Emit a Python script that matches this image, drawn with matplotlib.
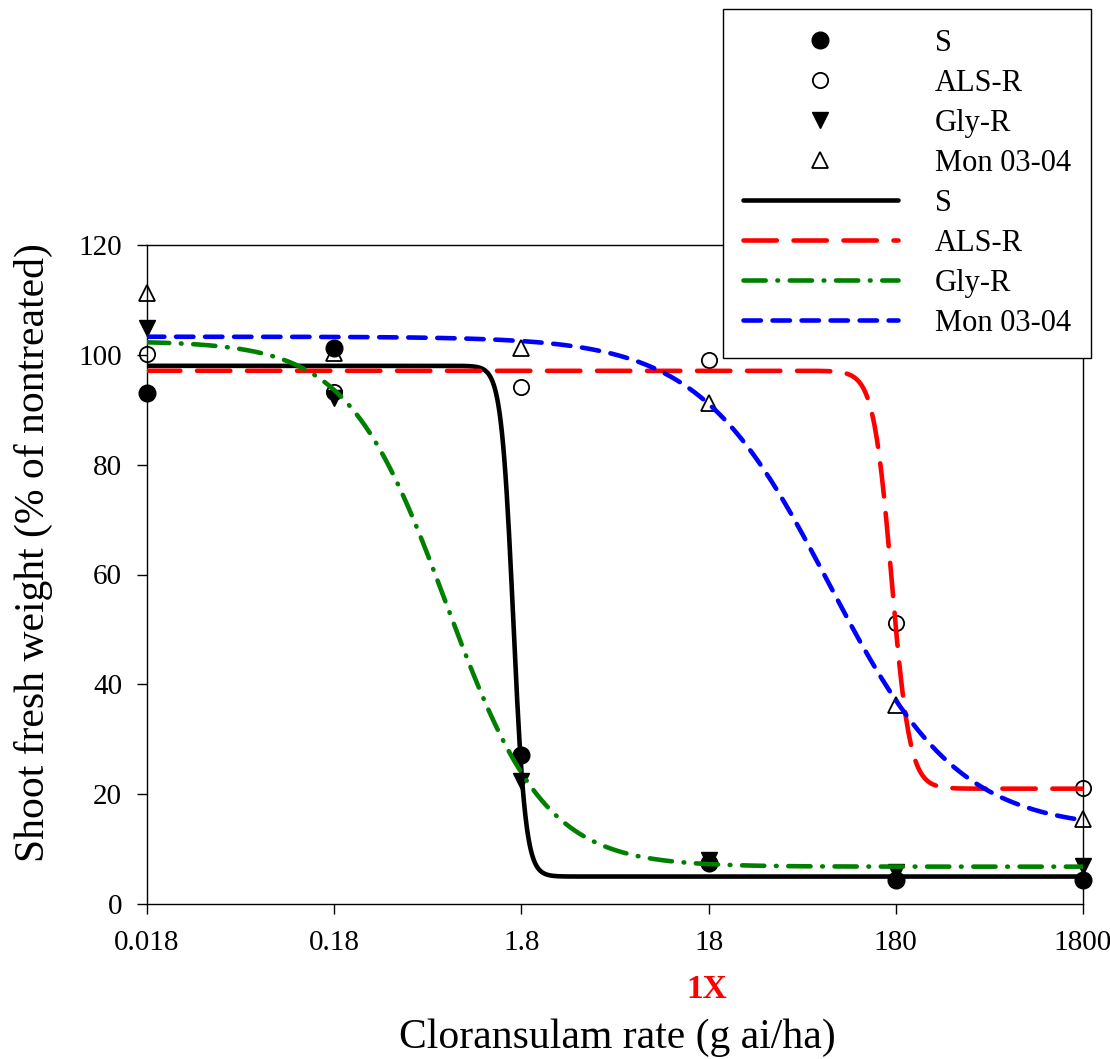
import numpy as np
import matplotlib
matplotlib.use('Agg')
import matplotlib.pyplot as plt
from matplotlib.lines import Line2D

plt.rcParams['font.family'] = ['Liberation Serif', 'DejaVu Serif']
plt.rcParams['lines.scale_dashes'] = False

# observed data (% of nontreated)
rates = [0.018, 0.18, 1.8, 18, 180, 1800]
s_obs = [93.1, 101.2, 27.2, 7.4, 4.4, 4.3]
als_obs = [100.1, 93.2, 94.1, 99.1, 51.2, 21.2]
gly_obs = [104.8, 92.1, 22.4, 8.0, 5.9, 7.0]
mon_obs = [111.3, 100.4, 101.3, 91.2, 36.3, 15.5]

# fitted log-logistic parameters: upper, lower, ED50, slope
labels = ['S', 'ALS-R', 'Gly-R', 'Mon 03-04']
upper = [98.0, 97.1, 102.5, 103.3]
lower = [5.0, 21.0, 6.8, 13.5]
ed50 = [1.63, 171.0, 0.715, 78.9]
slope = [13.5, 9.0, 1.65, 1.25]

tick_vals = [0.018, 0.18, 1.8, 18, 180, 1800]
tick_labels = ['0.018', '0.18', '1.8', '18', '180', '1800']

line_colors = ['black', 'red', 'green', 'blue']
line_dashes = ['-', (0, (24, 12)), (0, (16, 8.4, 0.5, 8.4)), (0, (12.5, 8.4))]

fig = plt.figure(figsize=(11.1, 10.59), dpi=100)
ax = fig.add_axes([147/1110, 1 - 904/1059, (1083 - 147)/1110, (904 - 245)/1059])

ms = 12
ax.plot(rates, s_obs, 'o', color='black', ms=ms, clip_on=False, zorder=3)
ax.plot(rates, als_obs, 'o', mfc='none', mec='black', ms=ms - 1, mew=1.3, clip_on=False, zorder=3)
ax.plot(rates, gly_obs, 'v', color='black', ms=ms, clip_on=False, zorder=3)
ax.plot(rates, mon_obs, '^', mfc='none', mec='black', ms=ms, mew=1.3, clip_on=False, zorder=3)

xx = np.logspace(np.log10(0.018), np.log10(1800), 800)
for i in range(4):
    yy = lower[i] + (upper[i] - lower[i]) / (1 + (xx / ed50[i]) ** slope[i])
    ax.plot(xx, yy, color=line_colors[i], linestyle=line_dashes[i], lw=3.3,
            dash_capstyle='round', solid_capstyle='round', zorder=4)

ax.set_xscale('log')
ax.set_xlim(0.018, 1800)
ax.set_ylim(0, 120)
ax.set_xticks(tick_vals)
ax.set_xticklabels(tick_labels)
ax.minorticks_off()
ax.set_yticks(range(0, 121, 20))
ax.tick_params(direction='out', length=7, width=1, labelsize=21)
ax.tick_params(axis='x', pad=12)
ax.tick_params(axis='y', pad=11)
for sp in ax.spines.values():
    sp.set_linewidth(1)

fig.text(707/1110, 1 - 998/1059, '1X', color='red', fontweight='bold',
         fontsize=24, ha='center', va='baseline')
fig.text(617/1110, 1 - 1048/1059, 'Cloransulam rate (g ai/ha)', fontsize=30,
         ha='center', va='baseline')
fig.text(33/1110, 1 - 553/1059, 'Shoot fresh weight (% of nontreated)', fontsize=30,
         rotation=90, ha='center', va='center')

handles = [
    Line2D([], [], ls='none', marker='o', color='black', ms=ms),
    Line2D([], [], ls='none', marker='o', mfc='white', mec='black', ms=ms - 1, mew=1.3),
    Line2D([], [], ls='none', marker='v', color='black', ms=ms),
    Line2D([], [], ls='none', marker='^', mfc='white', mec='black', ms=ms, mew=1.3),
]
for i in range(4):
    handles.append(Line2D([], [], color=line_colors[i], linestyle=line_dashes[i], lw=3.3,
                          dash_capstyle='round', solid_capstyle='round'))
leg = ax.legend(handles, labels + labels, loc='upper right',
                bbox_to_anchor=(1091/1110, 1 - 9/1059), bbox_transform=fig.transFigure,
                borderaxespad=0, fontsize=22, handlelength=5.1, handletextpad=1.2,
                labelspacing=0.36, borderpad=0.65, numpoints=1, frameon=True,
                fancybox=False, edgecolor='black', framealpha=1)
leg.get_frame().set_linewidth(1)

fig.savefig('out.png', dpi=100)
